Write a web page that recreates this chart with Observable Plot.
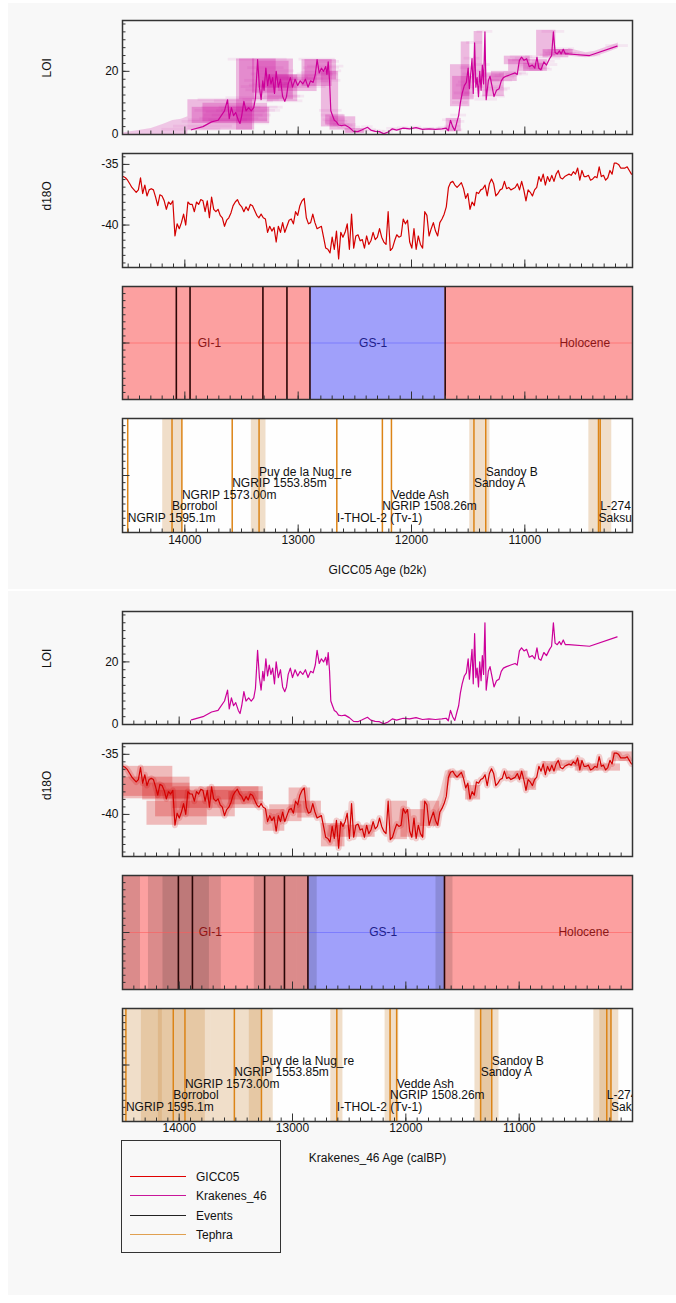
<!DOCTYPE html>
<html>
<head>
<meta charset="utf-8">
<script src="https://cdn.jsdelivr.net/npm/d3@7"></script>
<script src="https://cdn.jsdelivr.net/npm/@observablehq/plot@0.6"></script>
<style>
  html, body { margin: 0; padding: 0; background: #ffffff; }
  #page { position: relative; width: 676px; height: 1303px; overflow: hidden; font-family: "Liberation Sans", Arial, Helvetica, sans-serif; }
  .sec { position: absolute; left: 8px; width: 668px; background: #f8f8f8; }
  .legend { position: absolute; left: 121px; top: 1140px; width: 158px; height: 111px; border: 1.5px solid #333; }
  .legend .sw { position: absolute; left: 8px; width: 56px; height: 0; border-top: 1.6px solid; }
  .legend .lb { position: absolute; left: 74px; font-size: 12px; line-height: 14px; color: #111; white-space: nowrap; }
</style>
</head>
<body>
<div id="page"></div>
<script>
// ---------------- DATA ----------------
const xTickLabels = [14000, 13000, 12000, 11000];
const loiTickLabels = [0, 20];
const d18oTickLabels = [-40, -35];

// Krakenes_46 LOI record (age in calBP, Krakenes age model)
const loiAgeCal = [13892,13790,13714,13657,13600,13573,13558,13539,13520,13501,
  13478,13463,13448,13429,13410,13387,13364,13342,13327,13308,
  13292,13277,13262,13251,13235,13220,13205,13190,13175,13159,
  13144,13125,13106,13087,13068,13053,13038,13019,13000,12977,
  12954,12932,12909,12886,12863,12840,12818,12799,12783,12764,
  12745,12726,12707,12696,12685,12673,12662,12647,12631,12612,
  12594,12567,12537,12499,12461,12423,12385,12339,12309,12271,
  12233,12195,12157,12119,12081,12024,11967,11910,11853,11796,
  11739,11682,11644,11625,11606,11587,11568,11549,11534,11519,
  11503,11484,11466,11450,11439,11428,11416,11405,11393,11382,
  11371,11359,11348,11336,11325,11314,11302,11291,11272,11257,
  11238,11222,11200,11177,11158,11139,11112,11074,11036,11017,
  10998,10979,10957,10934,10911,10884,10862,10843,10827,10808,
  10782,10759,10732,10714,10698,10683,10664,10645,10630,10611,
  10592,10562,10379,10136];
const loiValue = [1.5,2.5,4.0,4.5,7.5,11.0,5.0,8.5,6.0,7.0,
  4.5,3.5,6.0,10.5,7.5,8.5,7.5,8.5,11.5,23.7,
  15.0,11.0,17.0,14.0,21.0,15.5,19.0,16.0,18.0,13.0,
  20.0,15.0,17.5,12.0,10.5,12.0,16.0,18.0,15.0,17.5,
  15.5,17.0,16.0,17.5,15.0,17.0,16.5,19.0,23.7,19.5,
  21.0,20.0,21.5,19.0,23.0,17.0,7.5,6.0,4.5,4.0,
  3.0,2.8,3.0,2.2,1.0,0.9,1.5,2.3,1.4,1.0,
  0.9,0.2,0.8,1.8,1.4,2.0,1.8,2.2,1.6,1.8,
  1.6,1.8,2.0,1.2,4.5,2.5,1.3,4.0,6.0,10.0,
  13.0,15.5,16.5,21.0,14.5,19.0,24.0,13.0,29.0,15.0,
  18.0,12.0,20.0,14.0,22.0,16.0,32.5,11.0,17.0,18.5,
  15.0,12.0,14.0,14.5,17.0,18.0,18.5,19.0,19.5,19.0,
  23.5,24.5,23.5,24.0,21.5,22.0,21.0,24.5,21.0,20.5,
  23.0,22.0,24.0,25.0,32.5,26.0,25.5,26.5,25.5,27.0,
  25.5,25.5,25.0,28.0];
// age uncertainty (half width, years) of LOI samples by age band (calBP)
const loiSigmaBreaksCal = [13300, 12700, 12400, 11650, 11300];
const loiSigmaYears = [260, 160, 100, 50, 70, 100];

// LOI on GICC05 scale: uncertainty boxes (b2k)
const loiBoxOld   = [13973,13935,13840,13544,13517,13403,13346,13270,13175,12966,12940,12795,12757,12719,12586,11694,11656,11637,11561,11447,11371,11295,11181,11143,11010,10896,10839,10726];
const loiBoxYoung = [13403,13251,13270,13384,13042,13194,13080,13004,12833,12700,12662,12643,12586,12492,12416,11561,11485,11447,11485,11371,11181,11067,10953,10801,10839,10726,10612,10574];
const loiBoxLow   = [1.4,3.5,4.0,1.4,11.0,13.1,14.7,10.4,13.6,15.2,17.3,2.4,3.0,1.4,0.3,0.9,8.8,11.0,12.0,16.3,12.0,16.8,22.1,20.0,20.0,24.8,24.3,25.3];
const loiBoxHigh  = [11.0,8.6,9.9,23.9,23.9,23.9,23.2,18.9,18.9,23.7,23.7,20.0,6.2,5.6,1.9,5.1,22.1,18.4,29.3,32.6,19.5,20.0,24.8,23.7,22.6,33.0,26.9,26.9];
const loiSmearAge  = [14550,14524,14420,14296,14182,14106,14030,13973];
const loiSmearHigh = [0.3,0.6,1.2,1.9,3.3,4.4,4.8,5.6];
const loiTailAge  = [10612,10460,10380,10280,10175];
const loiTailLow  = [24.8,24.3,24.6,25.8,27.2];
const loiTailHigh = [27.2,25.9,26.4,27.6,29.0];

// GICC05 d18O (age b2k)
const d18oAgeB2k = [14543,14524,14505,14486,14467,14448,14429,14410,14391,14372,
  14353,14334,14315,14296,14277,14258,14239,14220,14201,14182,
  14163,14144,14125,14106,14087,14068,14049,14030,14011,13992,
  13973,13954,13935,13916,13897,13878,13859,13840,13821,13802,
  13783,13764,13745,13726,13707,13688,13669,13650,13631,13612,
  13593,13574,13555,13536,13517,13498,13479,13460,13441,13422,
  13403,13384,13365,13346,13327,13308,13289,13270,13251,13232,
  13213,13194,13175,13156,13137,13118,13099,13080,13061,13042,
  13023,13004,12985,12966,12947,12928,12909,12890,12871,12852,
  12833,12814,12795,12776,12757,12738,12719,12700,12681,12662,
  12643,12624,12605,12586,12567,12548,12529,12510,12491,12472,
  12453,12434,12415,12396,12377,12358,12339,12320,12301,12282,
  12263,12244,12225,12206,12187,12168,12149,12130,12111,12092,
  12073,12054,12035,12016,11997,11978,11959,11940,11921,11902,
  11883,11864,11845,11826,11807,11788,11769,11750,11731,11712,
  11693,11674,11655,11636,11617,11598,11579,11560,11541,11522,
  11503,11484,11465,11446,11427,11408,11389,11370,11351,11332,
  11313,11294,11275,11256,11237,11218,11199,11180,11161,11142,
  11123,11104,11085,11066,11047,11028,11009,10990,10971,10952,
  10933,10914,10895,10876,10857,10838,10819,10800,10781,10762,
  10743,10724,10705,10686,10667,10648,10629,10610,10591,10572,
  10553,10534,10515,10496,10477,10458,10439,10420,10401,10382,
  10363,10344,10325,10306,10287,10268,10249,10230,10211,10192,
  10173,10154,10135,10116,10097,10078,10059];
const d18oValue = [-36.0,-36.1,-36.3,-36.6,-36.9,-37.1,-37.3,-37.1,-36.1,-37.4,
  -36.7,-37.6,-37.1,-37.0,-37.1,-37.7,-38.4,-37.5,-37.6,-38.0,
  -38.7,-38.1,-38.3,-38.0,-40.9,-39.9,-40.3,-39.8,-39.1,-40.0,
  -38.1,-38.3,-38.3,-38.9,-38.1,-38.3,-37.9,-38.0,-38.9,-38.0,
  -39.4,-37.7,-38.7,-38.9,-38.7,-39.2,-39.4,-40.1,-39.6,-39.4,
  -39.0,-38.4,-38.1,-37.9,-38.3,-38.5,-38.9,-38.5,-38.8,-38.3,
  -38.4,-38.8,-39.2,-39.4,-39.1,-39.4,-39.5,-40.6,-40.1,-40.5,
  -40.2,-41.4,-40.1,-40.6,-39.8,-40.6,-40.1,-39.6,-39.5,-39.9,
  -38.9,-39.2,-38.4,-38.0,-37.8,-39.4,-39.9,-39.8,-39.1,-39.8,
  -40.3,-40.2,-40.1,-41.0,-41.9,-42.0,-42.3,-41.0,-42.0,-40.5,
  -42.8,-40.6,-41.0,-40.6,-39.9,-42.0,-39.1,-41.9,-40.9,-40.8,
  -41.3,-41.2,-41.9,-40.9,-41.6,-41.3,-40.6,-41.2,-41.0,-40.3,
  -41.0,-41.4,-41.6,-38.9,-42.1,-41.9,-41.3,-40.8,-41.0,-40.9,
  -39.5,-39.9,-39.6,-41.4,-41.9,-40.3,-42.0,-40.9,-41.6,-41.9,
  -38.9,-39.2,-40.9,-40.3,-39.8,-40.5,-40.9,-39.8,-39.5,-39.1,
  -38.5,-36.9,-36.5,-36.4,-36.7,-36.9,-36.7,-36.5,-37.0,-37.8,
  -37.4,-38.7,-38.1,-38.4,-37.3,-37.4,-37.1,-37.0,-36.7,-37.6,
  -36.6,-36.2,-36.6,-37.6,-37.4,-37.1,-37.0,-36.4,-37.0,-36.9,
  -37.1,-37.0,-36.9,-36.6,-37.1,-36.4,-37.1,-38.0,-37.1,-37.3,
  -37.6,-37.1,-36.9,-36.0,-36.4,-35.8,-36.7,-36.0,-36.4,-35.9,
  -36.4,-35.8,-35.5,-36.1,-36.2,-36.0,-35.9,-35.8,-35.9,-35.6,
  -35.8,-35.3,-36.3,-35.5,-36.0,-36.0,-35.9,-36.3,-36.2,-36.0,
  -36.1,-35.2,-36.0,-35.9,-36.3,-36.1,-35.5,-35.8,-34.9,-34.9,
  -35.0,-35.3,-35.3,-35.3,-35.2,-35.5,-35.8];
// d18O on Krakenes scale: uncertainty boxes (calBP)
const d18oBoxOld   = [14560,14560,14322,14284,14208,14056,13752,13562,13258,13201,13030,12954,12745,12688,12138,12043,11872,11625,11473,11112,10941,10789,10637,10505,10182];
const d18oBoxYoung = [14056,13904,13904,13752,13505,13296,13258,13258,13068,12916,12840,12745,12537,12271,11986,11834,11701,11473,11340,10922,10846,10637,10448,10106,10000];
const d18oBoxLow   = [-38.5,-38.7,-38.8,-40.9,-40.2,-39.5,-38.8,-39.2,-41.4,-40.6,-39.9,-40.3,-42.7,-41.9,-42.1,-41.9,-41.0,-37.0,-38.8,-37.1,-38.0,-36.4,-36.0,-36.4,-35.6];
const d18oBoxHigh  = [-36.0,-36.9,-37.4,-38.9,-38.0,-37.7,-37.7,-38.1,-39.6,-39.2,-37.8,-38.9,-40.75,-40.9,-38.9,-39.6,-38.9,-36.4,-37.6,-36.4,-37.0,-35.6,-35.5,-35.8,-34.8];
const d18oRiseAge  = [11760,11700,11650,11600];
const d18oRiseLow  = [-41.2,-40.6,-38.6,-36.9];
const d18oRiseHigh = [-39.6,-38.4,-36.4,-36.2];

// Events (stadial/interstadial boundaries)
const eventNames  = ["GI-1e","GI-1d","GI-1c","GI-1b","GI-1a","GS-1","Holocene"];
const eventAgeB2k = [14692,14075,13954,13311,13099,12896,11703];
const eventAgeCal = [14642,14007,13883,13246,13071,12864,11659];
const eventBandOldCal   = [14760,14271,14143,13337,13161,12958,11734];
const eventBandYoungCal = [14341,13733,13628,13161,12958,12782,11584];
const regionNames = ["GI-1","GS-1","Holocene"];
const regionStartB2k = [14692,12896,11703];
const regionEndB2k   = [12896,11703,0];
const regionLabelB2k = [13783,12339,10471];
const regionStartCal = [14642,12864,11659];
const regionEndCal   = [12864,11659,-50];
const regionLabelCal = [13725,12200,10430];

// Tephra
const tephraNames = ["NGRIP 1595.1m","Borrobol","NGRIP 1573.00m","NGRIP 1553.85m","Puy de la Nug_re","I-THOL-2 (Tv-1)","NGRIP 1508.26m","Vedde Ash","Sandoy A","Sandoy B","Saksunarvatn","L-274"];
const tephraLevel = [0,1,2,3,4,0,1,2,3,4,0,1];
const tephraAgeB2k = [14504,14113,14026,13582,13345,12659,12257,12177,11449,11345,10350,10335];
const tephraBandOldB2k   = [null,14195,null,null,13413,null,null,null,11486,null,10435,null];
const tephraBandYoungB2k = [null,14024,null,null,13284,null,null,null,11308,null,10233,null];
const tephraAgeCal = [14470,14052,13949,13513,13274,12609,12139,12081,11340,11242,10190,10227];
const tephraBandOldCal   = [14560,14333,14183,13716,13381,12662,12183,null,11390,11337,10288,10341];
const tephraBandYoungCal = [14148,13769,13716,13275,13170,12555,12062,null,11240,11178,10121,10183];

const legendNames = ["GICC05","Krakenes_46","Events","Tephra"];

// ---------------- STYLE ----------------
const FONT = '"Liberation Sans", Arial, Helvetica, sans-serif';
const RED = "#d40000", MAGENTA = "#cc0099", EVENT_LINE = "#2a0505", ORANGE = "#dc8416", TAN = "#d29650";
const REGION_FILL = {"GI-1": "#fca0a0", "GS-1": "#a0a0fa", "Holocene": "#fca0a0"};
const REGION_LINE = {"GI-1": "#ff5a5a", "GS-1": "#6060ff", "Holocene": "#ff5a5a"};
const REGION_TEXT = {"GI-1": "#8a1616", "GS-1": "#1e1e8a", "Holocene": "#8a1616"};
const LEGEND_COLORS = ["#e00000", "#c8169a", "#222222", "#e0a050"];
const B2K_MINUS_CALBP = 50; // b2k = calBP + 50
const X_TOP = [14550, 10050]; // GICC05 b2k
const X_BOT = [14500, 10000]; // calBP
const LOI_Y = [0, 36.1];
const D18O_Y = [-43.5, -34.1];
const UNIT_Y = [0, 1];

// ---------------- BUILD ----------------
const page = document.getElementById("page");
function section(top, height) {
  const d = document.createElement("div");
  d.className = "sec";
  d.style.top = top + "px";
  d.style.height = height + "px";
  page.appendChild(d);
}
section(3, 586);
section(591, 704);

const loi = loiAgeCal.map((age, i) => {
  const k = loiSigmaBreaksCal.findIndex(b => age >= b);
  return {age, v: loiValue[i], sig: k === -1 ? loiSigmaYears[loiSigmaYears.length - 1] : loiSigmaYears[k]};
});
const d18o = d18oAgeB2k.map((age, i) => ({age, v: d18oValue[i]}));
const loiBoxes = loiBoxOld.map((o, i) => ({x1: o, x2: loiBoxYoung[i], y1: loiBoxLow[i], y2: loiBoxHigh[i]}));
const loiSmear = loiSmearAge.map((a, i) => ({a, hi: loiSmearHigh[i]}));
const loiTail = loiTailAge.map((a, i) => ({a, lo: loiTailLow[i], hi: loiTailHigh[i]}));
const d18oBoxes = d18oBoxOld.map((o, i) => ({x1: o, x2: d18oBoxYoung[i], y1: d18oBoxLow[i], y2: d18oBoxHigh[i]}));
const d18oRise = d18oRiseAge.map((a, i) => ({a, lo: d18oRiseLow[i], hi: d18oRiseHigh[i]}));

function makePanel({top, h, xDomain, yDomain, yMajor, yLabels, yTitle, xTitle, xLabelsDy, xTitleDy, bg, marks}) {
  const ML = 122, MR = 44, W = 676, IW = W - ML - MR;
  const mt = 8, mb = xTitle ? 58 : 8;
  const xlo = Math.min(...xDomain), xhi = Math.max(...xDomain);
  const xMinor = d3.range(Math.ceil(xlo / 100) * 100, xhi + 0.001, 100);
  const xMajor = xTickLabels.filter(t => t >= xlo && t <= xhi);
  const [ylo, yhi] = yDomain;
  const yStep = yMajor / 8;
  const yMinor = d3.range(Math.ceil(ylo / yStep - 1e-9) * yStep, yhi + 1e-9, yStep);
  const yMaj = d3.range(Math.ceil(ylo / yMajor - 1e-9) * yMajor, yhi + 1e-9, yMajor);
  const tick = "#333";
  const svg = Plot.plot({
    width: W, height: mt + h + mb,
    marginLeft: ML, marginRight: MR, marginTop: mt, marginBottom: mb,
    style: {background: "transparent", fontFamily: FONT, fontSize: "12px", overflow: "visible"},
    x: {domain: xDomain, axis: null},
    y: {domain: yDomain, axis: null},
    marks: [
      bg ? Plot.frame({fill: bg}) : null,
      ...marks,
      Plot.ruleX(xMinor, {x: d => d, insetTop: h - 3.5, stroke: tick}),
      Plot.ruleX(xMajor, {x: d => d, insetTop: h - 7.5, stroke: tick}),
      Plot.ruleY(yMinor, {y: d => d, insetRight: IW - 3.5, stroke: tick}),
      Plot.ruleY(yMaj, {y: d => d, insetRight: IW - 7.5, stroke: tick}),
      yLabels ? Plot.text(yLabels, {y: d => d, frameAnchor: "left", dx: -4, textAnchor: "end", text: d => String(d), fill: "#111", fontSize: 12}) : null,
      yTitle ? Plot.text([yTitle], {frameAnchor: "left", dx: -75, rotate: -90, text: d => d, fill: "#111", fontSize: 12}) : null,
      xTitle ? Plot.text(xMajor, {x: d => d, frameAnchor: "bottom", dy: xLabelsDy, text: d => String(d), fill: "#111", fontSize: 12}) : null,
      xTitle ? Plot.text([xTitle], {frameAnchor: "bottom", dy: xTitleDy, text: d => d, fill: "#111", fontSize: 12}) : null,
      Plot.frame({stroke: "#333", strokeWidth: 1.5})
    ]
  });
  svg.style.position = "absolute";
  svg.style.left = "0px";
  svg.style.top = (top - mt) + "px";
  page.appendChild(svg);
}

function eventMarks(regions, events, bands) {
  const yMid = d3.mean(UNIT_Y);
  return [
    Plot.rect(regions, {x1: "start", x2: "end", fill: d => REGION_FILL[d.name], clip: true}),
    bands ? Plot.rect(bands, {x1: "b1", x2: "b2", fill: "#000", fillOpacity: 0.13, clip: true}) : null,
    Plot.ruleY(regions, {y: () => yMid, x1: "start", x2: "end", stroke: d => REGION_LINE[d.name], strokeOpacity: 0.55, clip: true}),
    Plot.ruleX(events, {x: "age", stroke: EVENT_LINE, strokeWidth: 1.6, clip: true}),
    Plot.text(regions, {x: "label", text: "name", fill: d => REGION_TEXT[d.name], fontSize: 12, clip: true})
  ];
}

function tephraMarks(teph) {
  return [
    Plot.rect(teph.filter(d => d.b1 != null), {x1: "b1", x2: "b2", fill: TAN, fillOpacity: 0.3, clip: true}),
    Plot.ruleX(teph, {x: "age", stroke: ORANGE, strokeWidth: 1.5, clip: true}),
    ...[0, 1, 2, 3, 4].map(lvl => Plot.text(teph.filter(d => d.level === lvl), {
      x: "age", text: "name", frameAnchor: "bottom", dy: -(10.5 + 11.6 * lvl),
      textAnchor: "start", fill: "#111", fontSize: 12, clip: true
    }))
  ];
}

// ---- top section: GICC05 age (b2k)
makePanel({top: 20, h: 114, xDomain: X_TOP, yDomain: LOI_Y, yMajor: 20, yLabels: loiTickLabels, yTitle: "LOI", marks: [
  Plot.areaY(loiSmear, {x: "a", y1: 0, y2: "hi", fill: MAGENTA, fillOpacity: 0.2, clip: true}),
  Plot.areaY(loiTail, {x: "a", y1: "lo", y2: "hi", fill: MAGENTA, fillOpacity: 0.2, clip: true}),
  Plot.rect(loiBoxes, {x1: "x1", x2: "x2", y1: "y1", y2: "y2", fill: MAGENTA, fillOpacity: 0.25, clip: true}),
  Plot.rect(loi, {x1: d => d.age + B2K_MINUS_CALBP + d.sig, x2: d => d.age + B2K_MINUS_CALBP - d.sig, y1: d => d.v - 0.45, y2: d => d.v + 0.45, fill: MAGENTA, fillOpacity: 0.07, clip: true}),
  Plot.line(loi, {x: d => d.age + B2K_MINUS_CALBP, y: "v", stroke: MAGENTA, strokeWidth: 1.2, clip: true})
]});
makePanel({top: 153, h: 114, xDomain: X_TOP, yDomain: D18O_Y, yMajor: 5, yLabels: d18oTickLabels, yTitle: "d18O", marks: [
  Plot.line(d18o, {x: "age", y: "v", stroke: RED, strokeWidth: 1.2, clip: true})
]});
makePanel({top: 286, h: 113, xDomain: X_TOP, yDomain: UNIT_Y, yMajor: 0.5, marks: eventMarks(
  regionNames.map((name, i) => ({name, start: regionStartB2k[i], end: regionEndB2k[i], label: regionLabelB2k[i]})),
  eventNames.map((name, i) => ({name, age: eventAgeB2k[i]})),
  null)});
makePanel({top: 418, h: 114, xDomain: X_TOP, yDomain: UNIT_Y, yMajor: 0.5, bg: "#fefefe",
  xTitle: "GICC05 Age (b2k)", xLabelsDy: 11, xTitleDy: 41,
  marks: tephraMarks(tephraNames.map((name, i) => ({name, level: tephraLevel[i], age: tephraAgeB2k[i], b1: tephraBandOldB2k[i], b2: tephraBandYoungB2k[i]})))});

// ---- bottom section: Krakenes_46 age (calBP)
makePanel({top: 611, h: 113, xDomain: X_BOT, yDomain: LOI_Y, yMajor: 20, yLabels: loiTickLabels, yTitle: "LOI", marks: [
  Plot.line(loi, {x: "age", y: "v", stroke: MAGENTA, strokeWidth: 1.2, clip: true})
]});
makePanel({top: 743, h: 113, xDomain: X_BOT, yDomain: D18O_Y, yMajor: 5, yLabels: d18oTickLabels, yTitle: "d18O", marks: [
  Plot.rect(d18oBoxes, {x1: "x1", x2: "x2", y1: "y1", y2: "y2", fill: RED, fillOpacity: 0.25, clip: true}),
  Plot.areaY(d18oRise, {x: "a", y1: "lo", y2: "hi", fill: RED, fillOpacity: 0.18, clip: true}),
  Plot.line(d18o, {x: d => d.age - B2K_MINUS_CALBP, y: "v", stroke: RED, strokeWidth: 6, strokeOpacity: 0.18, clip: true}),
  Plot.line(d18o, {x: d => d.age - B2K_MINUS_CALBP, y: "v", stroke: RED, strokeWidth: 1.2, clip: true})
]});
makePanel({top: 875, h: 114, xDomain: X_BOT, yDomain: UNIT_Y, yMajor: 0.5, marks: eventMarks(
  regionNames.map((name, i) => ({name, start: regionStartCal[i], end: regionEndCal[i], label: regionLabelCal[i]})),
  eventNames.map((name, i) => ({name, age: eventAgeCal[i]})),
  eventNames.map((name, i) => ({name, b1: eventBandOldCal[i], b2: eventBandYoungCal[i]})))});
makePanel({top: 1008, h: 113, xDomain: X_BOT, yDomain: UNIT_Y, yMajor: 0.5, bg: "#fefefe",
  xTitle: "Krakenes_46 Age (calBP)", xLabelsDy: 10, xTitleDy: 40,
  marks: tephraMarks(tephraNames.map((name, i) => ({name, level: tephraLevel[i], age: tephraAgeCal[i], b1: tephraBandOldCal[i], b2: tephraBandYoungCal[i]})))});

// ---- legend
const legend = document.createElement("div");
legend.className = "legend";
const legendRowCenters = [36, 55, 74.5, 93.5];
legendNames.forEach((name, i) => {
  const sw = document.createElement("div");
  sw.className = "sw";
  sw.style.top = (legendRowCenters[i] - 0.8) + "px";
  sw.style.borderTopColor = LEGEND_COLORS[i];
  const lb = document.createElement("div");
  lb.className = "lb";
  lb.style.top = (legendRowCenters[i] - 7) + "px";
  lb.textContent = name;
  legend.appendChild(sw);
  legend.appendChild(lb);
});
page.appendChild(legend);
</script>
</body>
</html>
